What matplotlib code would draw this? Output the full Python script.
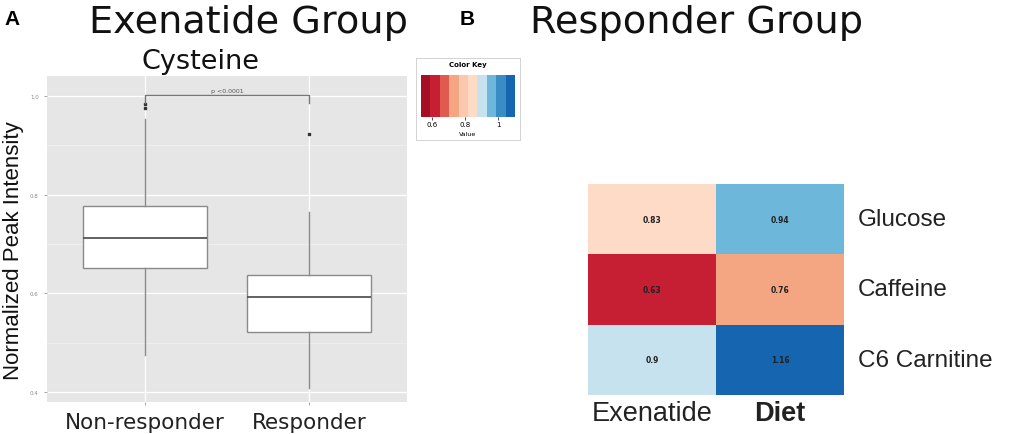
import matplotlib
matplotlib.use("Agg")
import matplotlib.pyplot as plt
import numpy as np
from matplotlib.colors import ListedColormap, BoundaryNorm

# ---------------- data ----------------
groups = ["Non-responder", "Responder"]
q1 = [0.651, 0.522]
median = [0.712, 0.592]
q3 = [0.777, 0.637]
whislo = [0.475, 0.408]
whishi = [0.953, 0.765]
fliers = [[0.983, 0.975], [0.923]]
yticks = [0.4, 0.6, 0.8, 1.0]
p_text = "p <0.0001"

metabolites = ["Glucose", "Caffeine", "C6 Carnitine"]
treatments = ["Exenatide", "Diet"]
ratios = [[0.83, 0.94],
          [0.63, 0.76],
          [0.90, 1.16]]
key_breaks = [0.534, 0.591, 0.647, 0.704, 0.761, 0.817, 0.874, 0.931, 0.987, 1.044, 1.20]
key_ticks = [0.6, 0.8, 1.0]
key_ticklabels = ["0.6", "0.8", "1"]

# ---------------- figure ----------------
fig = plt.figure(figsize=(10.09, 4.35), dpi=100)

# ---- panel A: boxplot ----
ax = fig.add_axes([0.0466, 0.0736, 0.3568, 0.749])
ax.set_facecolor("#E6E6E6")
ax.set_xlim(0.4, 2.6)
ax.set_ylim(0.38, 1.04)
for v in yticks:
    ax.axhline(v, color="white", lw=0.9, zorder=0)
for v in np.array(yticks[:-1]) + 0.1:
    ax.axhline(v, color="#F2F2F2", lw=0.5, zorder=0)
for xpos in [1, 2]:
    ax.axvline(xpos, color="white", lw=0.9, zorder=0)

stats = []
for i in range(len(groups)):
    stats.append(dict(med=median[i], q1=q1[i], q3=q3[i], whislo=whislo[i],
                      whishi=whishi[i], fliers=fliers[i], label=groups[i]))
ax.bxp(stats, positions=[1, 2], widths=0.755, patch_artist=True, showcaps=False,
       boxprops=dict(facecolor="white", edgecolor="#8A8A8A", lw=1.0),
       medianprops=dict(color="#555555", lw=1.3),
       whiskerprops=dict(color="#8A8A8A", lw=1.0),
       flierprops=dict(marker="s", markersize=1.8, markerfacecolor="#333333",
                       markeredgecolor="#333333"))
# significance bracket
yb = 1.002
ax.plot([1, 1, 2, 2], [yb - 0.016, yb, yb, yb - 0.016], color="#777777", lw=1.0)
ax.text(1.5, yb + 0.004, p_text, ha="center", va="bottom", fontsize=4.5, color="#555555")

ax.set_xticks([1, 2])
ax.set_xticklabels(groups, fontsize=15.5, color="#222222", family="DejaVu Sans")
ax.set_yticks(yticks)
ax.set_yticklabels([f"{v:.1f}" for v in yticks], fontsize=4, color="#888888")
ax.tick_params(axis="both", length=2.5, color="#999999", width=0.6)
ax.tick_params(axis="x", pad=5)
for s in ax.spines.values():
    s.set_visible(False)

fig.text(0.013, 0.425, "Normalized Peak Intensity", rotation=90, ha="center", va="center",
         fontsize=16, family="Liberation Sans", color="#111111")
fig.text(0.199, 0.858, "Cysteine", ha="center", va="center", fontsize=19.5,
         family="DejaVu Sans", color="#111111")
fig.text(0.246, 0.948, "Exenatide Group", ha="center", va="center", fontsize=27.5,
         family="DejaVu Sans", color="#111111")
fig.text(0.012, 0.955, "A", ha="center", va="center", fontsize=15, fontweight="bold",
         family="Liberation Sans")
fig.text(0.463, 0.955, "B", ha="center", va="center", fontsize=15, fontweight="bold",
         family="Liberation Sans")
fig.text(0.69, 0.948, "Responder Group", ha="center", va="center", fontsize=27.5,
         family="DejaVu Sans", color="#111111")

# ---- panel B: heatmap ----
key_colors = ['#A50F26', '#C61F33', '#E05A4F', '#F4A582', '#FAC8AE',
              '#FDDBC7', '#C6E2EF', '#6DB7DB', '#3A8CC4', '#1565B0']
cmap = ListedColormap(key_colors)
norm = BoundaryNorm(key_breaks, cmap.N)

hx = fig.add_axes([0.5828, 0.0897, 0.2537, 0.485])
data = np.array(ratios)
hx.pcolormesh(np.arange(len(treatments) + 1), np.arange(len(metabolites) + 1), data,
              cmap=cmap, norm=norm)
hx.set_xlim(0, len(treatments))
hx.set_ylim(len(metabolites), 0)
for r in range(len(metabolites)):
    for c in range(len(treatments)):
        hx.text(c + 0.5, r + 0.5, f"{ratios[r][c]:g}", ha="center", va="center",
                fontsize=5.5, fontweight="bold", color="#222222")
for s in hx.spines.values():
    s.set_visible(False)
hx.set_xticks([])
hx.set_yticks([])
for r, name in enumerate(metabolites):
    hx.text(len(treatments) + 0.11, r + 0.5, name, ha="left", va="center",
            fontsize=17.5, family="Liberation Sans", color="#222222")
hx.text(0.5, 3.07, treatments[0], ha="center", va="top", fontsize=19.5,
        family="Liberation Sans", color="#222222")
hx.text(1.5, 3.07, treatments[1], ha="center", va="top", fontsize=19.5,
        family="Liberation Sans", fontweight="bold", color="#222222")

# ---- color key (uniform blocks, like the heatmap.2 key) ----
frame = fig.add_axes([0.4123, 0.675, 0.1031, 0.19])
frame.set_xticks([]); frame.set_yticks([])
for s in frame.spines.values():
    s.set_color("#CCCCCC"); s.set_linewidth(0.6)
frame.text(0.5, 0.93, "Color Key", ha="center", va="center", fontsize=5,
           fontweight="bold", transform=frame.transAxes)
frame.text(0.5, 0.08, "Value", ha="center", va="center", fontsize=4.5,
           transform=frame.transAxes)
kx = fig.add_axes([0.4172, 0.7287, 0.0932, 0.0966])
nb = len(key_colors)
kx.pcolormesh(np.arange(nb + 1), [0, 1], np.array([key_breaks[:-1]]) + 1e-6,
              cmap=cmap, norm=norm)
kx.set_xlim(0, nb)
kx.set_yticks([])
tick_pos = np.interp(key_ticks, key_breaks[:-1], np.arange(nb))
kx.set_xticks(tick_pos)
kx.set_xticklabels(key_ticklabels, fontsize=5)
kx.tick_params(axis="x", length=2, pad=1, width=0.5)
for s in kx.spines.values():
    s.set_visible(False)

fig.savefig("out.png", dpi=100)
